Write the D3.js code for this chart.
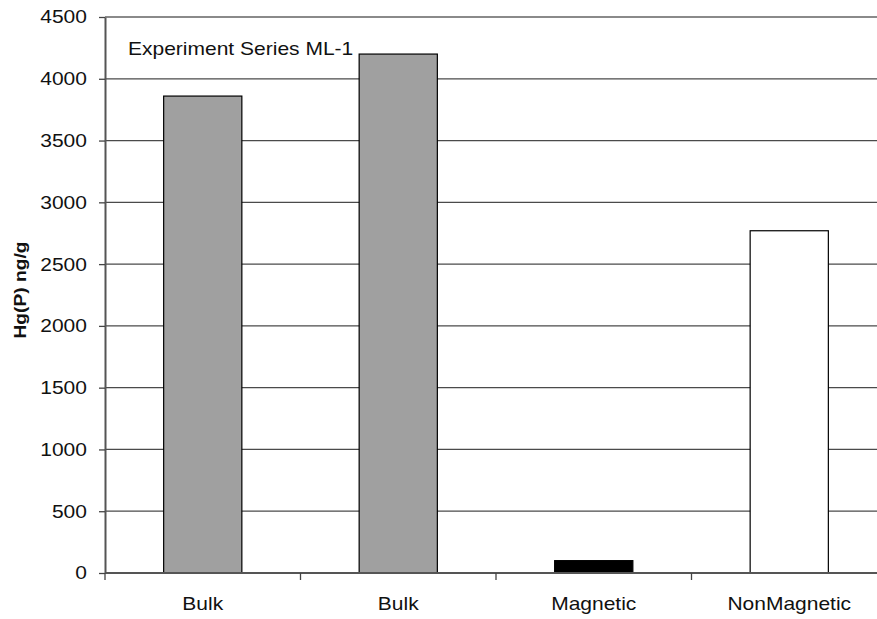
<!DOCTYPE html>
<html>
<head>
<meta charset="utf-8">
<script src="https://cdn.jsdelivr.net/npm/d3@7"></script>
<style>
  html, body { margin: 0; padding: 0; background: #fff; }
  svg text { font-family: "Liberation Sans", Arial, sans-serif; }
</style>
</head>
<body>
<div id="chart"></div>
<script>
// data
const categories = ["Bulk", "Bulk", "Magnetic", "NonMagnetic"];
const values = [3860, 4200, 100, 2770];
const barColors = ["#a0a0a0", "#a0a0a0", "#000000", "#ffffff"];
const yTicks = [0, 500, 1000, 1500, 2000, 2500, 3000, 3500, 4000, 4500];
const annotation = "Experiment Series ML-1";
const yTitle = "Hg(P) ng/g";

const width = 877;
const height = 619;
const margin = { top: 17, right: -10, bottom: 46, left: 105 };
const stretch = 1.13; // glyphs in the source are a bit wider than Arial

const svg = d3.select("#chart")
    .append("svg")
    .attr("width", width)
    .attr("height", height)
    .style("display", "block");

const idx = categories.map((d, i) => i);

const x = d3.scaleBand()
    .domain(idx)
    .range([margin.left, width - margin.right])
    .paddingInner(0)
    .paddingOuter(0);

const y = d3.scaleLinear()
    .domain([0, 4500])
    .range([height - margin.bottom, margin.top]);

// gridlines
svg.append("g")
    .selectAll("line")
    .data(yTicks.filter(d => d > 0 && d < 4500))
    .join("line")
    .attr("x1", margin.left)
    .attr("x2", width - margin.right)
    .attr("y1", d => y(d))
    .attr("y2", d => y(d))
    .attr("stroke", "#4a4a4a")
    .attr("stroke-width", 1.3);

// top border
svg.append("line")
    .attr("x1", margin.left)
    .attr("x2", width - margin.right)
    .attr("y1", y(4500))
    .attr("y2", y(4500))
    .attr("stroke", "#8a8a8a")
    .attr("stroke-width", 2);

// bars
const bw = x.bandwidth() * 0.4;
svg.append("g")
    .selectAll("rect")
    .data(idx)
    .join("rect")
    .attr("x", i => x(i) + (x.bandwidth() - bw) / 2)
    .attr("width", bw)
    .attr("y", i => y(values[i]))
    .attr("height", i => y(0) - y(values[i]))
    .attr("fill", i => barColors[i])
    .attr("stroke", "#000")
    .attr("stroke-width", 1.2);

// y axis
const yAxis = svg.append("g")
    .attr("transform", `translate(${margin.left},0)`)
    .call(d3.axisLeft(y).tickValues(yTicks).tickFormat(d3.format("d"))
        .tickSize(6).tickPadding(10).tickSizeOuter(0));
yAxis.attr("font-size", null).attr("font-family", null);
yAxis.select(".domain").attr("stroke", "#555").attr("stroke-width", 2);
yAxis.selectAll(".tick line").attr("stroke", "#444").attr("stroke-width", 1.3);
yAxis.selectAll(".tick text")
    .style("font-size", "18.6px")
    .attr("fill", "#111")
    .attr("transform", `scale(${stretch},1)`);

// x axis: labels at band centres, tick marks at band edges
const xAxis = svg.append("g")
    .attr("transform", `translate(0,${y(0)})`)
    .call(d3.axisBottom(x).tickSize(0).tickPadding(24).tickFormat(i => categories[i]));
xAxis.attr("font-size", null).attr("font-family", null);
xAxis.select(".domain").remove();
xAxis.selectAll(".tick text")
    .style("font-size", "18.6px")
    .attr("fill", "#111")
    .attr("transform", `scale(${stretch},1)`)
    .attr("x", 0);

svg.append("line")
    .attr("x1", margin.left)
    .attr("x2", width - margin.right)
    .attr("y1", y(0))
    .attr("y2", y(0))
    .attr("stroke", "#555")
    .attr("stroke-width", 2);

svg.append("g")
    .selectAll("line")
    .data(idx)
    .join("line")
    .attr("x1", i => x(i))
    .attr("x2", i => x(i))
    .attr("y1", y(0))
    .attr("y2", y(0) + 7)
    .attr("stroke", "#444")
    .attr("stroke-width", 1.3);

// annotation inside plot
svg.append("text")
    .attr("transform", `translate(128,55) scale(${stretch},1)`)
    .style("font-size", "18.6px")
    .attr("fill", "#111")
    .text(annotation);

// y title
svg.append("text")
    .attr("transform", `translate(26,290) rotate(-90) scale(${stretch},1)`)
    .attr("text-anchor", "middle")
    .style("font-size", "17px")
    .style("font-weight", "bold")
    .attr("fill", "#111")
    .text(yTitle);
</script>
</body>
</html>
